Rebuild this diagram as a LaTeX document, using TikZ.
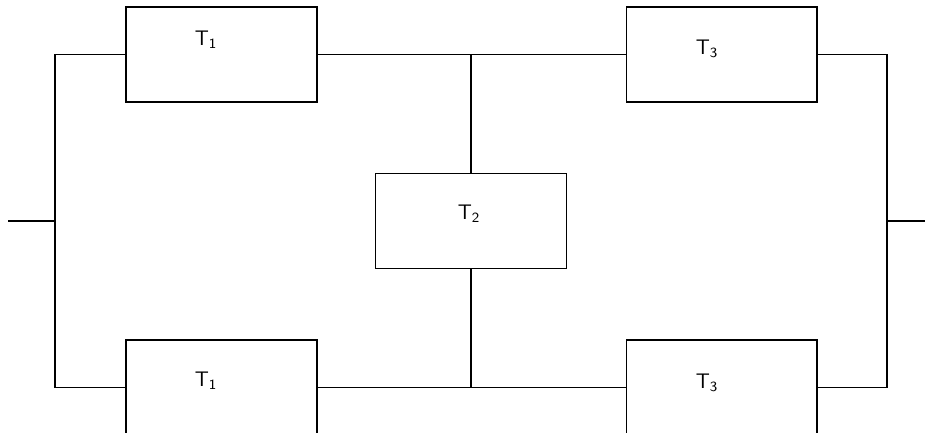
\documentclass[tikz,border=0pt]{standalone}
\usepackage{tikz}
\usetikzlibrary{positioning}

\begin{document}
\begin{tikzpicture}[
  x=0.02cm, y=-0.02cm,
  blk/.style={draw, line width=0.6pt, minimum width=3.82cm, minimum height=1.9cm, inner sep=0pt},
  lbl/.style={font=\sffamily\large, inner sep=0pt},
  wire/.style={line width=0.6pt}
]
  \useasboundingbox (0,0) rectangle (925,434);
  \clip (0,0) rectangle (925,432.5);

  % blocks
  \node[blk] (t1a) at (221.5,54.5) {};
  \node[blk] (t3a) at (721.5,54.5) {};
  \node[blk] (t2)  at (471,221) {};
  \node[blk] (t1b) at (221.5,387.5) {};
  \node[blk] (t3b) at (721.5,387.5) {};

  % labels
  \node[lbl] (l1a) at (206,40)  {T$_{\mathsf{1}}$};
  \node[lbl] (l3a) at (707,49)  {T$_{\mathsf{3}}$};
  \node[lbl] (l2)  at (469,214) {T$_{\mathsf{2}}$};
  \node[lbl] (l1b) at (206,381) {T$_{\mathsf{1}}$};
  \node[lbl] (l3b) at (707,383) {T$_{\mathsf{3}}$};

  % terminals
  \coordinate (inL)  at (8,221);
  \coordinate (jl)   at (55,221);
  \coordinate (jr)   at (887,221);
  \coordinate (outR) at (925,221);

  \draw[wire] (inL) -- (jl);
  \draw[wire] (t1a.west) -| (jl) |- (t1b.west);
  \draw[wire] (t1a.east) -- (t3a.west);
  \draw[wire] (t1b.east) -- (t3b.west);
  \draw[wire] (t2.north) -- (t2.north |- t1a.east);
  \draw[wire] (t2.south) -- (t2.south |- t1b.east);
  \draw[wire] (t3a.east) -| (jr) |- (t3b.east);
  \draw[wire] (jr) -- (outR);
\end{tikzpicture}
\end{document}
